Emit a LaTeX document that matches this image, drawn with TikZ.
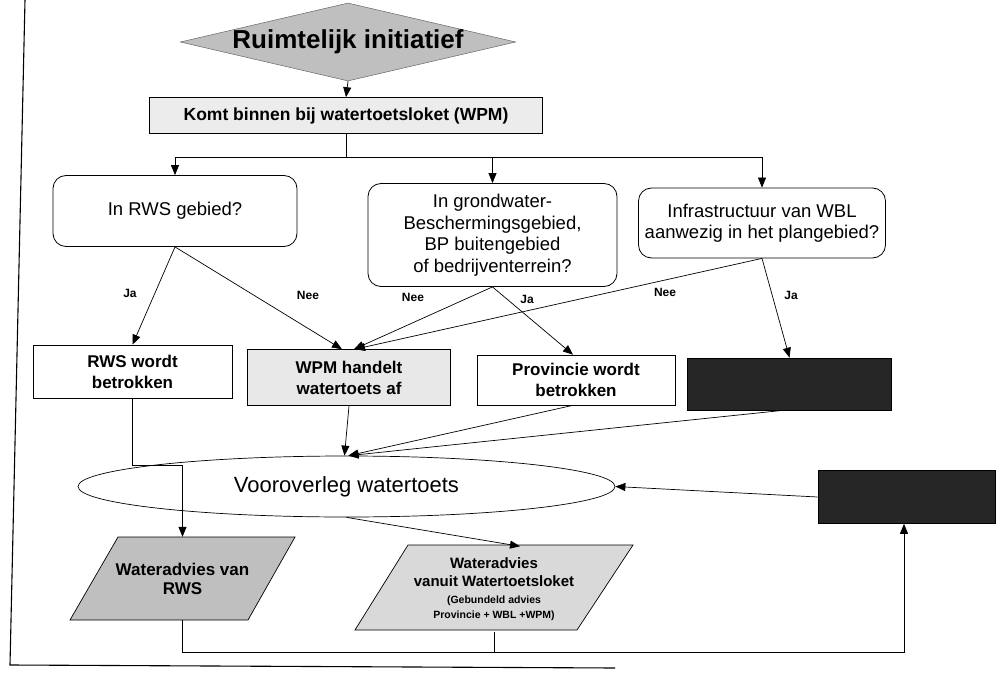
\documentclass[tikz,border=0pt]{standalone}
\usepackage{fontspec}
\setmainfont{Liberation Sans}
\usetikzlibrary{arrows.meta,shapes.geometric}
\begin{document}
\begin{tikzpicture}[x=1pt,y=-1pt,
  ln/.style={line width=0.7pt},
  arr/.style={ln,-{Triangle[length=10pt,width=8pt]}},
  qbox/.style={draw,line width=0.8pt,rounded corners=13pt,align=center,inner sep=0pt,
    font=\fontsize{18.5}{21.5}\selectfont},
  rowbox/.style={draw,line width=0.6pt,align=center,inner sep=0pt,
    font=\fontsize{17}{21}\selectfont\bfseries},
  darkbox/.style={draw,line width=0.6pt,fill=black!85,inner sep=0pt},
  lbl/.style={font=\fontsize{12}{14}\selectfont\bfseries,inner sep=0pt},
  ptext/.style={align=center,inner sep=0pt,minimum width=120pt,font=\bfseries}
]
\useasboundingbox (0,0) rectangle (998,679);
\fill[white] (0,0) rectangle (998,679);

% frame
\draw[line width=1.1pt] (25,0) -- (10,665) -- (615,668);

% top
\node[draw=black!60,line width=0.5pt,fill=gray!50,shape=diamond,aspect=4.3,
  minimum width=323pt,minimum height=75pt,inner sep=0pt,
  font=\fontsize{26}{30}\selectfont\bfseries] (init) at (348,42) {Ruimtelijk initiatief};
\node[rowbox,fill=gray!15,minimum width=393pt,minimum height=36pt,
  font=\fontsize{17.5}{20}\selectfont\bfseries] (komt) at (346,115.5) {Komt binnen bij watertoetsloket (WPM)};

% questions
\node[qbox,minimum width=244pt,minimum height=71pt] (q1) at (175,211) {In RWS gebied?};
\node[qbox,minimum width=249pt,minimum height=103pt] (q2) at (492.5,235)
  {In grondwater-\\Beschermingsgebied,\\BP buitengebied\\of bedrijventerrein?};
\node[qbox,minimum width=247pt,minimum height=70pt] (q3) at (762,223)
  {Infrastructuur van WBL\\aanwezig in het plangebied?};

% row
\node[rowbox,minimum width=199pt,minimum height=53pt] (rws) at (132.5,371.5) {RWS wordt\\betrokken};
\node[rowbox,fill=gray!18,minimum width=203pt,minimum height=56pt] (wpm) at (349,377.5) {WPM handelt\\watertoets af};
\node[rowbox,minimum width=198pt,minimum height=50pt] (prov) at (576,380) {Provincie wordt\\betrokken};
\node[darkbox,minimum width=204pt,minimum height=52pt] (dark1) at (789.5,384) {};

% ellipse
\node[draw,line width=0.7pt,ellipse,minimum width=537pt,minimum height=61pt,inner sep=0pt,
  font=\fontsize{22}{26}\selectfont] (ell) at (346.5,486.5) {Vooroverleg watertoets};
\node[darkbox,minimum width=177pt,minimum height=53pt] (dark2) at (906.5,497) {};

% parallelograms
\draw[ln,fill=gray!50] (70,620) -- (248,620) -- (295,537) -- (118,537) -- cycle;
\node[ptext,minimum height=83pt,font=\fontsize{17}{19}\selectfont\bfseries] (p1) at (182.5,578.5) {Wateradvies van\\RWS};
\draw[ln,fill=gray!30] (355,630) -- (577,630) -- (633,545) -- (408,545) -- cycle;
\node[ptext,minimum height=85pt,font=\fontsize{15}{18}\selectfont\bfseries] (p2) at (494,589)
  {Wateradvies\\vanuit Watertoetsloket\\[-1pt]{\fontsize{10.5}{13}\selectfont (Gebundeld advies}\\[-3pt]{\fontsize{10.5}{13}\selectfont Provincie + WBL +WPM)}};

% connectors top
\draw[arr] (init.south) -- (komt.north);
\coordinate (hb) at (346,157);
\draw[ln] (komt.south) -- (hb);
\draw[arr] (hb) -| (q1.north);
\draw[arr] (hb) -| (q2.north);
\draw[arr] (hb) -| (q3.north);

% decisions
\draw[arr] (q1.south) -- (rws.north);
\draw[arr] (q1.south) -- ([xshift=-7pt]wpm.north);
\draw[arr] (q2.south) -- ([xshift=5pt]wpm.north);
\draw[arr] (q2.south) -- ([xshift=-3pt]prov.north);
\draw[arr] (q3.south) -- ([xshift=6pt]wpm.north);
\draw[arr] (q3.south) -- (dark1.north);
\node[lbl] (l1) at (130,293) {Ja};
\node[lbl] (l2) at (308,295) {Nee};
\node[lbl] (l3) at (413,297) {Nee};
\node[lbl] (l4) at (527,299) {Ja};
\node[lbl] (l5) at (665,292) {Nee};
\node[lbl] (l6) at (791,295) {Ja};

% into ellipse
\draw[arr] (wpm.south) -- ([xshift=-2pt]ell.north);
\draw[arr] ([xshift=-3pt]prov.south) -- ([xshift=2pt]ell.north);
\draw[arr] ([xshift=-6pt]dark1.south) -- ([xshift=2pt]ell.north);
\draw[arr] (rws.south) -- ++(0,67) -| (p1.north);
\draw[arr] (ell.south) -- ([xshift=26pt]p2.north);
\draw[arr] (dark2.west) -- (ell.east);

% bottom feedback
\coordinate (fb) at (904,652);
\draw[arr] (p1.south) |- (fb) -- (fb |- dark2.south);
\draw[ln] (p2.south) -- (p2.south |- fb);
\end{tikzpicture}
\end{document}
